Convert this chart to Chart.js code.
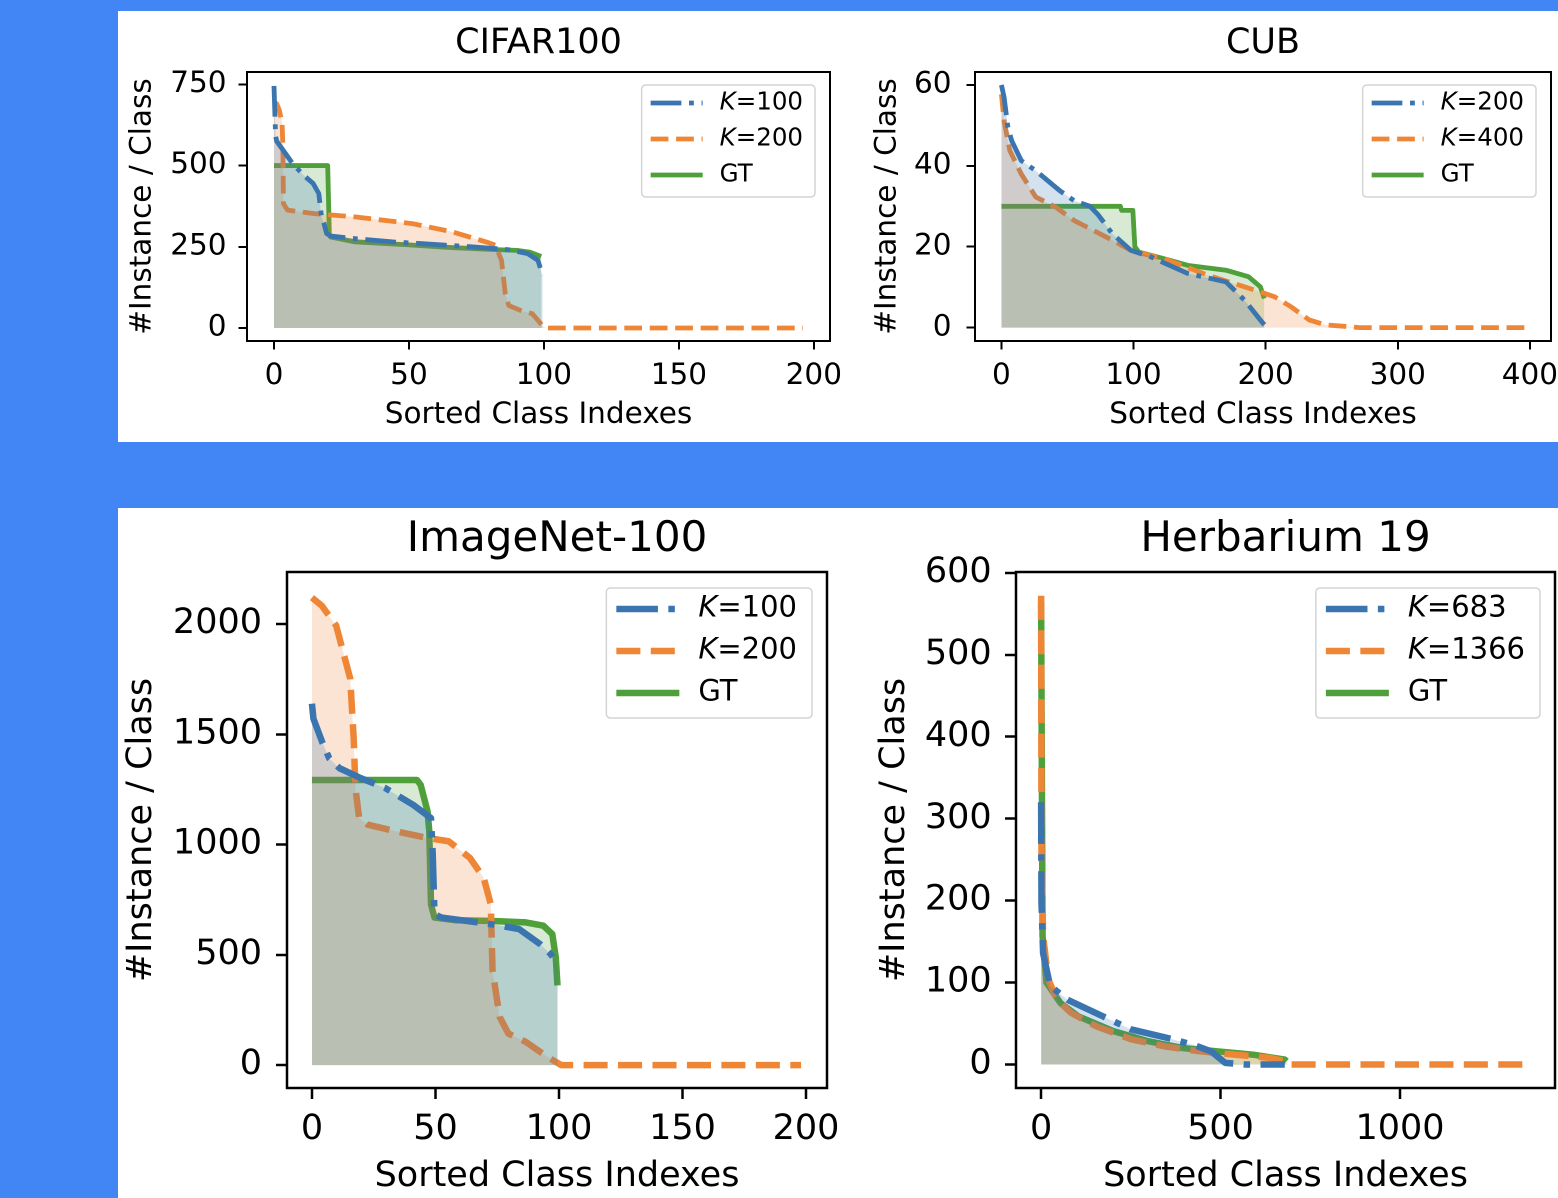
<!DOCTYPE html>
<html>
<head>
<meta charset="utf-8">
<title>Sorted cluster sizes</title>
<script src="https://cdn.jsdelivr.net/npm/chart.js@4.4.1/dist/chart.umd.min.js"></script>
<style>
  html, body { margin: 0; padding: 0; }
  body { width: 1558px; height: 1198px; background: #4285f4; position: relative; overflow: hidden; }
  .panel { position: absolute; background: #fff; }
  .plot { position: absolute; }
  .plot canvas { display: block; }
</style>
</head>
<body>
<div class="panel" style="left:118px;top:11px;width:1440px;height:431px"></div>
<div class="panel" style="left:118px;top:508px;width:1440px;height:690px"></div>

<div class="plot" style="left:118px;top:11px"><canvas id="cifar" width="732" height="430"></canvas></div>
<div class="plot" style="left:850px;top:11px"><canvas id="cub" width="708" height="430"></canvas></div>
<div class="plot" style="left:118px;top:508px"><canvas id="imagenet" width="732" height="690"></canvas></div>
<div class="plot" style="left:850px;top:508px"><canvas id="herb" width="708" height="690"></canvas></div>

<script>
// Values: [sorted class index, instances per class]

// CIFAR100
const cifarXTicks = [0, 50, 100, 150, 200];
const cifarYTicks = [0, 250, 500, 750];
const cifarLabels = ['K=100', 'K=200', 'GT'];
const cifarK100 = [[0, 745], [0.6, 590], [1, 575], [4, 540], [7, 505], [11, 470], [14.5, 445], [16.6, 414],
  [17.6, 342], [18.5, 322], [19.5, 291], [21, 283], [30, 275], [44, 265], [60, 257], [73, 250], [87, 241],
  [94, 229], [97.8, 208], [99.5, 162]];
const cifarK200 = [[0, 697], [1, 690], [2, 670], [3, 630], [3.3, 560], [3.5, 383], [5, 363], [15, 352],
  [30, 342], [51.5, 321], [66, 296], [78.6, 265], [82, 255], [84.3, 208], [85.7, 105], [87, 69], [92, 52],
  [95.7, 44], [99.9, 3], [101, 0], [196, 0]];
const cifarGT = [[0, 500], [19.9, 500], [20.5, 290], [21, 280], [30, 265], [50, 256], [65, 248], [80, 242],
  [90, 239], [95, 233], [99, 220]];

// CUB
const cubXTicks = [0, 100, 200, 300, 400];
const cubYTicks = [0, 20, 40, 60];
const cubLabels = ['K=200', 'K=400', 'GT'];
const cubK200 = [[0, 60], [2, 57], [4.9, 49.5], [7.8, 46.2], [15, 41.3], [26, 38.8], [44, 33.9], [55, 31.4],
  [67, 30], [73, 28], [84, 23.2], [98, 19.1], [113, 17.5], [141, 13.4], [170, 11.3], [184, 6.8],
  [196, 1.9], [199, 0.7]];
const cubK400 = [[0, 57.7], [2, 51.1], [6.3, 43.8], [15, 38], [26, 32.3], [41, 29.8], [55, 26.5], [84, 21.6],
  [98, 19.1], [126, 16.7], [156, 13], [184, 10.1], [199, 8.5], [207, 7.6], [219, 5.2], [233, 1.9],
  [245, 0.7], [265, 0.2], [271, 0], [396, 0]];
const cubGT = [[0, 30], [90, 30], [91, 29], [99.5, 29], [101, 20], [104, 18.7], [113, 17.9], [127, 16.7],
  [141, 15.4], [170, 14.2], [187, 12.6], [196, 10.1], [199, 7.2]];

// ImageNet-100
const inetXTicks = [0, 50, 100, 150, 200];
const inetYTicks = [0, 500, 1000, 1500, 2000];
const inetLabels = ['K=100', 'K=200', 'GT'];
const inetK100 = [[0, 1639], [0.6, 1571], [4.1, 1466], [7, 1391], [11.2, 1346], [19.8, 1301], [29.7, 1256],
  [41, 1180], [48.2, 1120], [48.9, 955], [49.6, 684], [52.5, 669], [72.4, 639], [83.8, 617], [92.3, 549],
  [96.6, 504], [99.4, 459]];
const inetK200 = [[0, 2120], [4, 2083], [9.8, 1993], [15.5, 1752], [16.9, 1481], [17.6, 1256], [19.1, 1120],
  [22.6, 1090], [34, 1060], [46.8, 1030], [55.3, 1015], [63.9, 940], [69.5, 850], [72.4, 729], [73.1, 429],
  [76, 218], [79.5, 143], [86.6, 105], [95.2, 38], [100.9, 0], [198, 0]];
const inetGT = [[0, 1293], [42.5, 1293], [44, 1271], [46.8, 1150], [47.5, 1060], [48.2, 729], [49.6, 669],
  [58, 657], [72, 654], [86.6, 647], [93.7, 632], [97.3, 594], [98.7, 489], [99.4, 361]];

// Herbarium 19
const herbXTicks = [0, 500, 1000];
const herbYTicks = [0, 100, 200, 300, 400, 500, 600];
const herbLabels = ['K=683', 'K=1366', 'GT'];
const herbK683 = [[0, 320], [1, 198], [5.5, 136], [25, 96], [74, 79], [152, 63], [250, 43], [347, 33],
  [425, 24], [474, 16], [513, 2], [572, 0], [679, 0]];
const herbK1366 = [[0, 572], [1, 259], [5.5, 157], [20, 104], [44.5, 79], [84, 63], [152, 47], [250, 31],
  [347, 22], [445, 16], [543, 12], [640, 8], [679, 4], [689, 0], [1363, 0]];
const herbGT = [[0, 564], [4, 157], [15, 100], [54, 75], [103, 59], [200, 41], [298, 28.5], [396, 20],
  [494, 16], [591, 12], [679, 6], [684, 4]];

const FONT = '"DejaVu Sans", sans-serif';
const COLORS = ['#3a75b0', '#ef8636', '#4f9f3a'];
const FILLS = ['rgba(58,117,176,0.22)', 'rgba(239,134,54,0.22)', 'rgba(79,159,58,0.22)'];

function toXY(pts) {
  return pts.map(([x, y]) => ({ x, y }));
}

// frame, panel title and a matplotlib-like legend
const deco = {
  id: 'deco',
  afterDatasetsDraw(chart, args, opts) {
    const { ctx, chartArea: a } = chart;
    ctx.save();
    ctx.strokeStyle = '#000';
    ctx.lineWidth = opts.frame;
    ctx.strokeRect(a.left, a.top, a.right - a.left, a.bottom - a.top);
    ctx.restore();
  },
  afterDraw(chart, args, opts) {
    const { ctx, chartArea: a } = chart;
    ctx.save();
    ctx.fillStyle = '#000';
    ctx.textAlign = 'center';
    ctx.textBaseline = 'middle';
    ctx.font = opts.titleSize + 'px ' + FONT;
    ctx.fillText(opts.title, (a.left + a.right) / 2, opts.titleY);

    const lg = opts.legend;
    const normal = lg.size + 'px ' + FONT;
    const italic = 'italic ' + lg.size + 'px ' + FONT;
    const parts = t => (t.startsWith('K=') ? [['K', italic], [t.slice(1), normal]] : [[t, normal]]);
    const textW = t => parts(t).reduce((w, [s, f]) => { ctx.font = f; return w + ctx.measureText(s).width; }, 0);
    const sets = chart.data.datasets;
    const maxW = Math.max(...sets.map(d => textW(d.label)));
    const w = lg.padL + lg.lineLen + lg.gap + maxW + lg.padR;
    const h = lg.padTop + (sets.length - 1) * lg.rowH + lg.padBottom;
    const x0 = a.right - lg.insetX - w;
    const y0 = a.top + lg.insetY;
    const r = 4;
    ctx.beginPath();
    ctx.moveTo(x0 + r, y0);
    ctx.arcTo(x0 + w, y0, x0 + w, y0 + h, r);
    ctx.arcTo(x0 + w, y0 + h, x0, y0 + h, r);
    ctx.arcTo(x0, y0 + h, x0, y0, r);
    ctx.arcTo(x0, y0, x0 + w, y0, r);
    ctx.closePath();
    ctx.fillStyle = 'rgba(255,255,255,0.8)';
    ctx.fill();
    ctx.strokeStyle = '#d4d4d4';
    ctx.lineWidth = 1.5;
    ctx.stroke();

    sets.forEach((d, i) => {
      const y = y0 + lg.padTop + i * lg.rowH;
      ctx.beginPath();
      ctx.setLineDash(d.borderDash);
      ctx.lineCap = 'butt';
      ctx.strokeStyle = d.borderColor;
      ctx.lineWidth = d.borderWidth;
      ctx.moveTo(x0 + lg.padL, y);
      ctx.lineTo(x0 + lg.padL + lg.lineLen, y);
      ctx.stroke();
      ctx.setLineDash([]);
      let x = x0 + lg.padL + lg.lineLen + lg.gap;
      ctx.textAlign = 'left';
      ctx.fillStyle = '#000';
      parts(d.label).forEach(([s, f]) => {
        ctx.font = f;
        ctx.fillText(s, x, y);
        x += ctx.measureText(s).width;
      });
    });
    ctx.restore();
  }
};

function drawChart(id, title, labels, series, xTicks, yTicks, lim, look) {
  const lw = look.lineWidth;
  const dashes = [[6.4 * lw, 1.6 * lw, lw, 1.6 * lw], [3.7 * lw, 1.6 * lw], []];
  const datasets = series.map((pts, i) => ({
    label: labels[i],
    data: toXY(pts),
    borderColor: COLORS[i],
    backgroundColor: FILLS[i],
    borderDash: dashes[i],
    borderWidth: lw,
    borderJoinStyle: 'round',
    fill: 'origin',
    pointRadius: 0,
    tension: 0
  }));
  const font = { family: FONT, size: look.font };
  const grid = { drawOnChartArea: false, drawTicks: true, tickLength: look.tickLen, tickWidth: look.frame, tickColor: '#000' };

  return new Chart(document.getElementById(id), {
    type: 'line',
    data: { datasets },
    plugins: [deco],
    options: {
      responsive: false,
      devicePixelRatio: 2,
      animation: false,
      events: [],
      layout: { padding: { left: 0, right: look.padR, top: look.padT, bottom: 0 } },
      scales: {
        x: {
          type: 'linear',
          min: lim.x[0],
          max: lim.x[1],
          afterBuildTicks: s => { s.ticks = xTicks.map(v => ({ value: v })); },
          afterFit: s => { s.height = look.xAxisH; s.paddingLeft = 0; s.paddingRight = 0; },
          grid,
          border: { display: false },
          ticks: { font, color: '#000', padding: look.xTickPad, maxRotation: 0, autoSkip: false, callback: v => String(v) },
          title: { display: true, text: 'Sorted Class Indexes', font, color: '#000', padding: { top: 0, bottom: look.xTitlePad } }
        },
        y: {
          type: 'linear',
          min: lim.y[0],
          max: lim.y[1],
          afterBuildTicks: s => { s.ticks = yTicks.map(v => ({ value: v })); },
          afterFit: s => { s.width = look.yAxisW; s.paddingTop = 0; s.paddingBottom = 0; },
          grid,
          border: { display: false },
          ticks: { font, color: '#000', padding: look.yTickPad, autoSkip: false, callback: v => String(v) },
          title: { display: true, text: '#Instance / Class', font, color: '#000', padding: { top: look.yTitlePad, bottom: 0 } }
        }
      },
      plugins: {
        legend: { display: false },
        tooltip: { enabled: false },
        deco: { title, titleY: look.titleY, titleSize: look.titleSize, frame: look.frame, legend: look.legend }
      }
    }
  });
}

const topLegend = { size: 24.5, rowH: 36, padTop: 18, padBottom: 22, padL: 9, lineLen: 52, gap: 17, padR: 12, insetX: 15, insetY: 13 };
const bottomLegend = { size: 29, rowH: 42, padTop: 21, padBottom: 25, padL: 10, lineLen: 63, gap: 19, padR: 15, insetX: 15, insetY: 16 };

const topLook = { lineWidth: 4.8, font: 29.5, titleSize: 35, titleY: 33, frame: 2, tickLen: 8.5, xTickPad: 9,
  xTitlePad: 8, xAxisH: 100, padT: 61, legend: topLegend };
const bottomLook = { lineWidth: 6.5, font: 35, titleSize: 42, titleY: 32, frame: 2.5, tickLen: 11, xTickPad: 10,
  xTitlePad: 0, xAxisH: 110, padT: 64, legend: bottomLegend };

drawChart('cifar', 'CIFAR100', cifarLabels, [cifarK100, cifarK200, cifarGT], cifarXTicks, cifarYTicks,
  { x: [-10, 206], y: [-40, 788] },
  Object.assign({}, topLook, { yAxisW: 129, padR: 20, yTitlePad: 7.3, yTickPad: 12 }));

drawChart('cub', 'CUB', cubLabels, [cubK200, cubK400, cubGT], cubXTicks, cubYTicks,
  { x: [-20, 416], y: [-3.3, 63.2] },
  Object.assign({}, topLook, { yAxisW: 125, padR: 7, yTitlePad: 20.3, yTickPad: 15 }));

drawChart('imagenet', 'ImageNet-100', inetLabels, [inetK100, inetK200, inetGT], inetXTicks, inetYTicks,
  { x: [-10.1, 208.5], y: [-104, 2236] },
  Object.assign({}, bottomLook, { yAxisW: 169, padR: 23, yTitlePad: 3, yTickPad: 14 }));

drawChart('herb', 'Herbarium 19', herbLabels, [herbK683, herbK1366, herbGT], herbXTicks, herbYTicks,
  { x: [-70, 1432], y: [-28.6, 601] },
  Object.assign({}, bottomLook, { yAxisW: 166, padR: 3, yTitlePad: 24, yTickPad: 13.3 }));
</script>
</body>
</html>
